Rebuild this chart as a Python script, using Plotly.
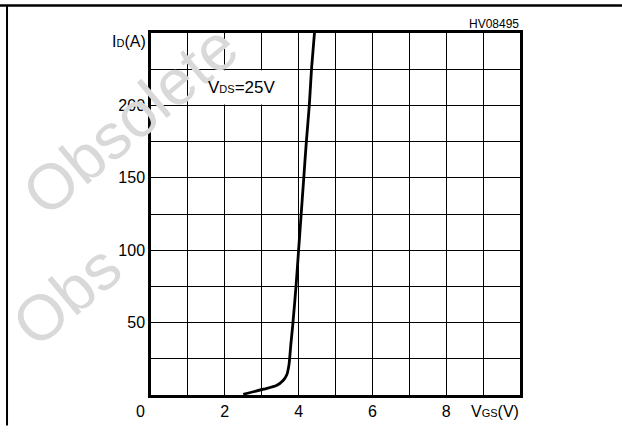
import plotly.graph_objects as go

# Transfer characteristic data
vgs = [2.50, 3.05, 3.40, 3.58, 3.68, 3.74, 3.79, 3.84, 3.93, 4.00, 4.07, 4.14, 4.21, 4.29, 4.35, 4.43]
id_a = [0.5, 4.0, 6.5, 10.0, 14.0, 21.0, 35.0, 48.0, 75.0, 100.0, 125.0, 150.0, 175.0, 200.0, 225.0, 250.0]

x_tickvals = [0, 1, 2, 3, 4, 5, 6, 7, 8, 9, 10]
x_ticktext = ["", "", "2", "", "4", "", "6", "", "8", "", ""]
y_tickvals = [0, 25, 50, 75, 100, 125, 150, 175, 200, 225, 250]
y_ticktext = ["", "", "50", "", "100", "", "150", "", "200", "", ""]

FONT = "Liberation Sans, Arial, sans-serif"
WM = "#d9d9d9"

fig = go.Figure()
fig.add_trace(go.Scatter(
    x=vgs, y=id_a, mode="lines",
    line=dict(color="black", width=2.8, shape="spline", smoothing=0.6),
    hoverinfo="skip", showlegend=False,
))

axis_common = dict(
    showline=True, mirror=True, linewidth=2.5, linecolor="black",
    showgrid=True, gridcolor="black", gridwidth=1.2,
    zeroline=False, ticks="", tickfont=dict(family=FONT, size=16, color="black"),
    tickmode="array", fixedrange=True,
)
fig.update_xaxes(range=[0, 10], tickvals=x_tickvals, ticktext=x_ticktext, **axis_common)
fig.update_yaxes(range=[0, 250], tickvals=y_tickvals, ticktext=y_ticktext, **axis_common)

shapes = [
    # white box behind the VDS label
    dict(type="rect", xref="x", yref="y", x0=1.04, x1=3.96, y0=200.7, y1=224.3,
         fillcolor="white", line=dict(width=0), layer="above"),
    # page frame lines
    dict(type="line", xref="paper", yref="paper", x0=-0.4092, x1=1.2764, y0=1.0761, y1=1.0761,
         line=dict(color="black", width=2.5)),
    dict(type="line", xref="paper", yref="paper", x0=-0.3902, x1=-0.3902, y0=1.0761, y1=-0.0842,
         line=dict(color="black", width=2)),
]

annotations = [
    # watermark (drawn first so chart labels sit over it)
    dict(x=(130 - 151) / 369, y=(401 - 121) / 368, xref="paper", yref="paper",
         xanchor="center", yanchor="middle",
         text="Obsolete", textangle=-40, showarrow=False,
         font=dict(family=FONT, size=64, color=WM)),
    dict(x=(66 - 151) / 369, y=(401 - 300) / 368, xref="paper", yref="paper",
         xanchor="center", yanchor="middle",
         text="Obs", textangle=-40, showarrow=False,
         font=dict(family=FONT, size=64, color=WM)),
    dict(x=2.45, y=212.5, xref="x", yref="y",
         text="V<span style='font-size:11px'>DS</span>=25V",
         showarrow=False, font=dict(family=FONT, size=17, color="black")),
    dict(x=-0.008, y=0.9755, xref="paper", yref="paper", xanchor="right", yanchor="middle",
         text="I<span style='font-size:11px'>D</span>(A)", showarrow=False,
         font=dict(family=FONT, size=16, color="black")),
    dict(x=1.003, y=-0.046, xref="paper", yref="paper", xanchor="right", yanchor="middle",
         text="V<span style='font-size:11px'>GS</span>(V)", showarrow=False,
         font=dict(family=FONT, size=16, color="black")),
    dict(x=-0.0298, y=-0.046, xref="paper", yref="paper", xanchor="center", yanchor="middle",
         text="0", showarrow=False, font=dict(family=FONT, size=16, color="black")),
    dict(x=1.003, y=1.0245, xref="paper", yref="paper", xanchor="right", yanchor="middle",
         text="HV08495", showarrow=False, font=dict(family=FONT, size=12, color="black")),
]

fig.update_layout(
    width=622, height=432,
    margin=dict(l=151, r=102, t=33, b=31),
    paper_bgcolor="white", plot_bgcolor="white",
    shapes=shapes, annotations=annotations,
    showlegend=False,
)

fig.write_html(
    "out.html",
    config={"displayModeBar": False},
    post_script="document.body.style.margin='0';document.body.style.padding='0';",
)
